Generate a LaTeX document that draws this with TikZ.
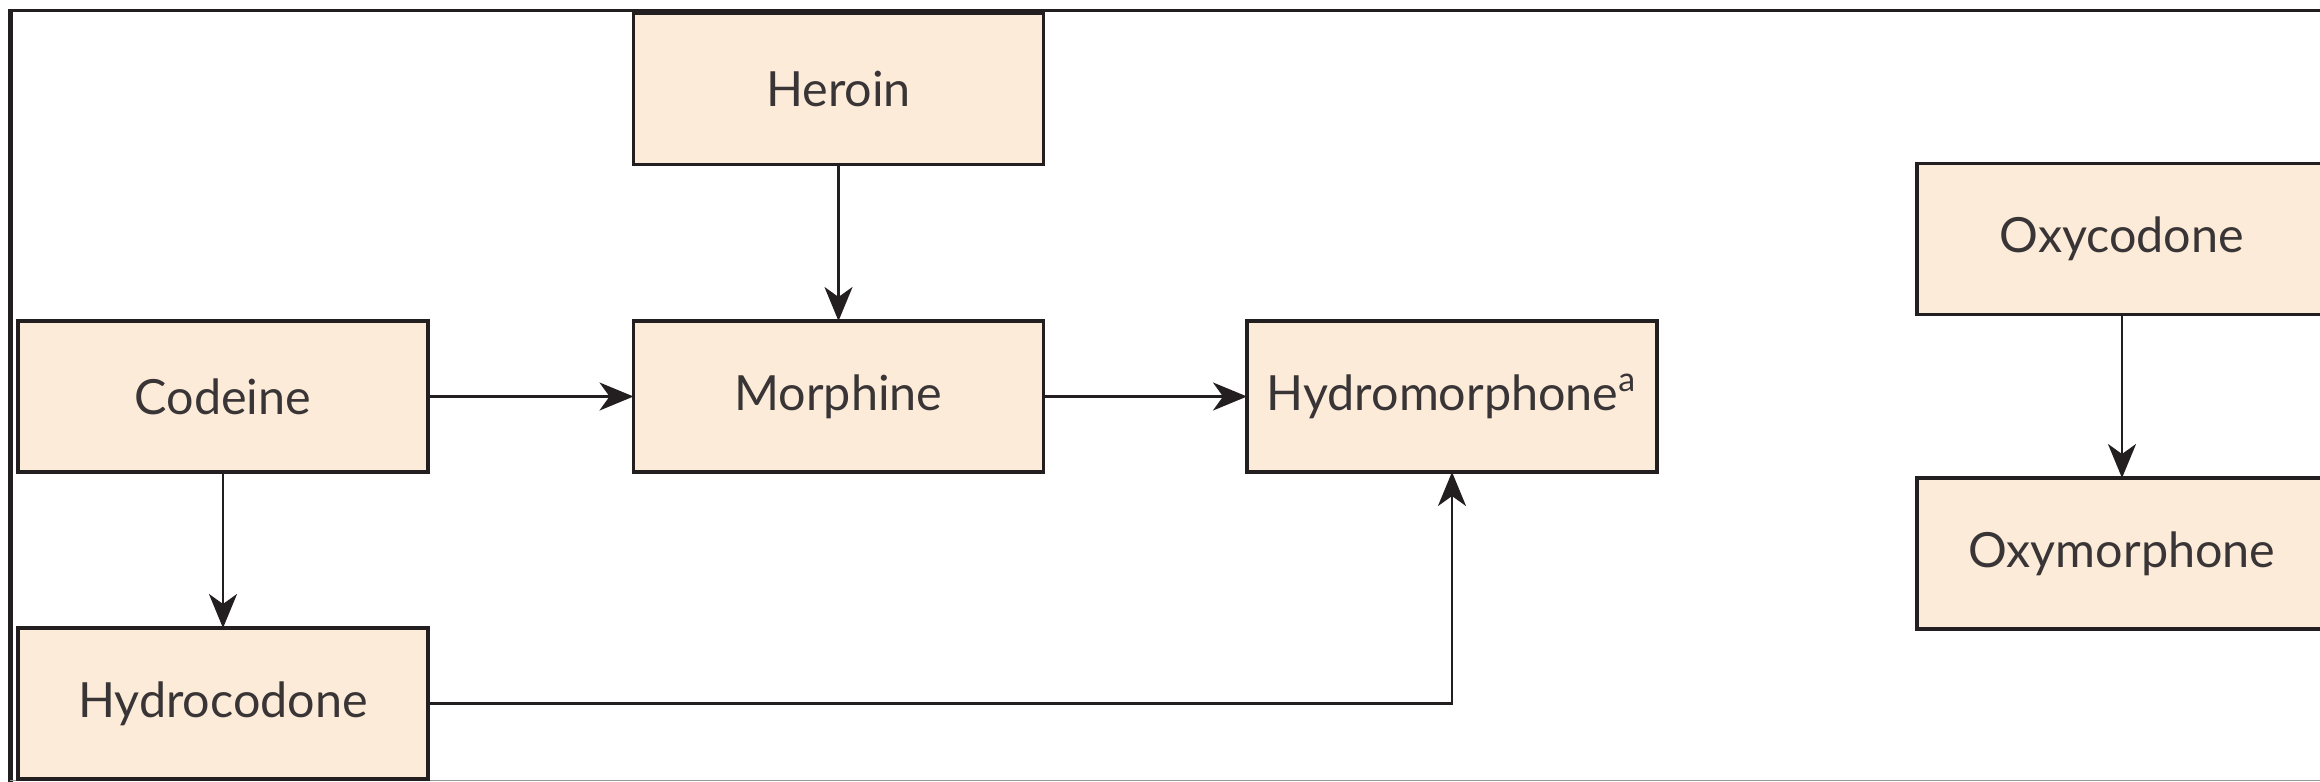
\documentclass[tikz,border=0pt]{standalone}
\usepackage{fontspec}
\setmainfont{Lato}
\usetikzlibrary{arrows.meta}
\definecolor{boxfill}{HTML}{FCEBD8}
\definecolor{ink}{HTML}{231F20}
\tikzset{
  >={Stealth[length=3.4mm,width=2.8mm,inset=1mm]},
}
\tikzstyle{drug}=[draw=ink,line width=0.9pt,fill=boxfill,minimum width=4.1cm,
  minimum height=1.51cm,inner sep=0pt,outer sep=0pt,text=ink!90]
\tikzstyle{path}=[draw=ink,line width=0.75pt,->]
\tikzstyle{every node}=[font=\fontsize{13.8}{16}\selectfont]

\begin{document}
\begin{tikzpicture}
        \useasboundingbox (0,0) rectangle (23.2,-7.82);
        \clip (0,0) rectangle (23.2,-7.82);
        % frame
        \draw[ink,line width=1.6pt] (.105,-.09)--(.105,-7.82);
        \draw[ink,line width=.6pt] (.1,-.105)--(23.2,-.105);
        \draw[black!40,line width=.5pt] (.1,-7.805)--(23.2,-7.805);
        % boxes
        \node[drug] (heroin) at (8.385,-.89) {Heroin};
        \node[drug] (codeine) at (2.23,-3.965) {Codeine};
        \node[drug] (morphine) at (8.385,-3.965) {Morphine};
        \node[drug] (hydromorphone) at (14.52,-3.965) {Hydromorphone\textsuperscript{a}};
        \node[drug] (hydrocodone) at (2.23,-7.035) {Hydrocodone};
        \node[drug] (oxycodone) at (21.22,-2.39) {Oxycodone};
        \node[drug] (oxymorphone) at (21.22,-5.535) {Oxymorphone};
        % arrows
        \draw[path] (heroin)--(morphine);
        \draw[path] (codeine)--(morphine);
        \draw[path] (morphine)--(hydromorphone);
        \draw[path] (codeine)--(hydrocodone);
        \draw[path] (hydrocodone.east)-|(hydromorphone.south);
        \draw[path] (oxycodone)--(oxymorphone);
\end{tikzpicture}
\end{document}
